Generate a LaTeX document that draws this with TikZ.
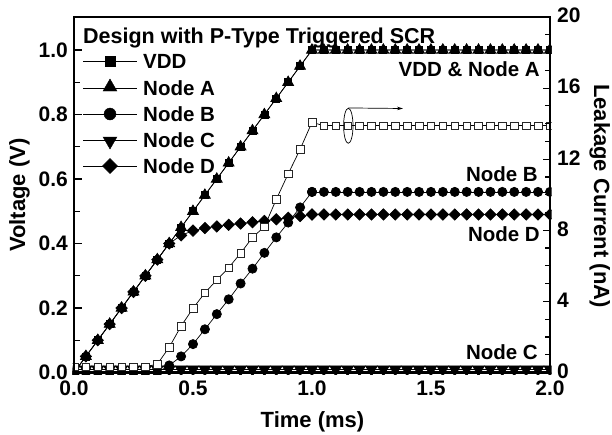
\documentclass[tikz,border=0pt]{standalone}
\usepackage{fontspec}
\setmainfont{Liberation Sans}
\usetikzlibrary{plotmarks,arrows.meta,shapes.geometric}
\begin{document}
\begin{tikzpicture}[x=1pt,y=-1pt,
  big/.style={inner sep=0pt, font=\bfseries\fontsize{21}{24}\selectfont},
  ttl/.style={inner sep=0pt, font=\bfseries\fontsize{21.5}{24}\selectfont},
  axt/.style={inner sep=0pt, font=\bfseries\fontsize{22}{26}\selectfont},
  lbl/.style={inner sep=0pt, font=\bfseries\fontsize{20.5}{24}\selectfont},
  dataline/.style={line width=0.7pt, black},
  tickline/.style={line width=1.2pt},
  frameline/.style={line width=2.8pt},
  openmark/.style={mark=square*, mark size=3.8, mark options={fill=white, draw=black!85, line width=0.6pt}},
  sqmark/.style={mark=square*, mark size=3.5},
  trimark/.style={mark=triangle*, mark size=6.3},
  circmark/.style={mark=*, mark size=4.6},
  dnmark/.style={mark=triangle*, mark size=6.8, mark options={rotate=180}},
  diamark/.style={mark=square*, mark size=4, mark options={rotate=45}}
]
\useasboundingbox (0,0) rectangle (612,434);
\fill[white] (0,0) rectangle (612,434);

% ---------------- data ----------------
\begin{scope}[shift={(74,372.5)}, x=238pt, y=322.5pt]
  \clip ([xshift=-1.5pt,yshift=-1.5pt]0,0) rectangle ([xshift=1.5pt,yshift=1.5pt]2,1.1023);
  % VDD
  \draw[dataline] plot[sqmark, domain=0:2, samples=41] (\x,{min(\x,1)});
  % Node A
  \draw[dataline] plot[trimark, domain=0:2, samples=41] (\x,{min(\x,1)});
  % Node B
  \draw[dataline] plot[circmark] coordinates {(0,0) (0.05,0) (0.1,0) (0.15,0) (0.2,0) (0.25,0) (0.3,0) (0.35,0)
     (0.4,0.022) (0.45,0.05) (0.5,0.088) (0.55,0.134) (0.6,0.181) (0.65,0.227) (0.7,0.276)
     (0.75,0.322) (0.8,0.371) (0.85,0.419) (0.9,0.465) (0.95,0.512) (1.0,0.56)};
  \draw[dataline] plot[circmark, domain=1:2, samples=21] (\x,0.56);
  % Node C
  \draw[dataline] plot[dnmark, domain=0:2, samples=41] (\x,0.01);
  % Node D
  \draw[dataline] plot[diamark] coordinates {(0,0) (0.05,0.05) (0.1,0.1) (0.15,0.15) (0.2,0.2) (0.25,0.25)
     (0.3,0.3) (0.35,0.35) (0.4,0.4) (0.45,0.425) (0.5,0.44) (0.55,0.448) (0.6,0.453) (0.65,0.458)
     (0.7,0.462) (0.75,0.466) (0.8,0.47) (0.85,0.475) (0.9,0.48) (0.95,0.485) (1.0,0.49)};
  \draw[dataline] plot[diamark, domain=1:2, samples=21] (\x,0.49);
  % Leakage current (right axis, in voltage units)
  \draw[dataline] plot[openmark] coordinates {(0,0.018) (0.05,0.018) (0.1,0.018) (0.15,0.018) (0.2,0.018)
     (0.25,0.018) (0.3,0.018) (0.35,0.026) (0.4,0.078) (0.45,0.144) (0.5,0.199) (0.55,0.247)
     (0.6,0.287) (0.65,0.325) (0.7,0.37) (0.75,0.419) (0.8,0.452) (0.85,0.537) (0.9,0.616)
     (0.95,0.692) (1.0,0.776) (1.05,0.765)};
  \draw[dataline] plot[openmark, domain=1.05:2, samples=20] (\x,0.765);
\end{scope}

% ---------------- ticks ----------------
\foreach \i in {0,...,11}{
  \pgfmathsetmacro{\yy}{372.5-32.25*\i}
  \pgfmathsetmacro{\len}{ifthenelse(mod(\i,2)==0,8,5.5)}
  \draw[tickline] (74,\yy) -- ++(\len,0);
}
\foreach \i in {0,...,20}{
  \pgfmathsetmacro{\yy}{372.5-17.775*\i}
  \pgfmathsetmacro{\len}{ifthenelse(mod(\i,4)==0,7,5)}
  \draw[tickline] (550,\yy) -- ++(-\len,0);
}

% ---------------- frame ----------------
\draw[frameline] (74,17) rectangle (550,372.5);

% ---------------- tick labels ----------------
\foreach \v/\t in {0/0.0, 1/0.2, 2/0.4, 3/0.6, 4/0.8, 5/1.0}{
  \node[big, anchor=east] (yl\v) at (68,{372.5-64.5*\v}) {\t};
}
\foreach \v/\t in {0/0.0, 1/0.5, 2/1.0, 3/1.5, 4/2.0}{
  \node[big, anchor=north] (xl\v) at ({74+119*\v},380.5) {\t};
}
\foreach \v/\t in {0/0, 1/4, 2/8, 3/12, 4/16, 5/20}{
  \node[big, anchor=west] (rl\v) at (557,{371-71.1*\v}) {\t};
}

% ---------------- axis titles ----------------
\node[axt, anchor=base, rotate=90] (ylab) at (25,195) {Voltage (V)};
\node[axt, anchor=base, rotate=-90] (rlab) at (594,196) {Leakage Current (nA)};
\node[axt, anchor=base] (xlab) at (312.5,427) {Time (ms)};

% ---------------- legend ----------------
\node[ttl, anchor=base west] (title) at (83,43.3) {Design with P-Type Triggered SCR};
\draw[dataline] (83,61) -- (137,61);
\path plot[mark=square*, mark size=5.3] coordinates {(110,61)};
\node[lbl, anchor=west] (lg1) at (143,61) {VDD};
\draw[dataline] (83,88) -- (137,88);
\path plot[mark=triangle*, mark size=8] coordinates {(110,87)};
\node[lbl, anchor=west] (lg2) at (143,88) {Node A};
\draw[dataline] (83,114) -- (137,114);
\path plot[mark=*, mark size=6] coordinates {(110,114)};
\node[lbl, anchor=west] (lg3) at (143,114) {Node B};
\draw[dataline] (83,140) -- (137,140);
\path plot[mark=triangle*, mark size=8, mark options={rotate=180}] coordinates {(110,141)};
\node[lbl, anchor=west] (lg4) at (143,140) {Node C};
\draw[dataline] (83,166) -- (137,166);
\path plot[mark=square*, mark size=5.3, mark options={rotate=45}] coordinates {(110,166)};
\node[lbl, anchor=west] (lg5) at (143,166) {Node D};

% ---------------- curve labels ----------------
\node[lbl, anchor=east] (labA) at (540,69.5) {VDD \& Node A};
\node[lbl, anchor=east] (labB) at (538,174) {Node B};
\node[lbl, anchor=east] (labD) at (540,234) {Node D};
\node[lbl, anchor=east] (labC) at (538,352.5) {Node C};

% ---------------- ellipse + arrow ----------------
\node[draw, ellipse, minimum width=9.4pt, minimum height=35pt, inner sep=0pt, line width=0.7pt] (ell) at (348.3,125.8) {};
\coordinate (arrend) at (403,108.5);
\draw[line width=0.7pt, -{Stealth[length=6pt,width=3.5pt]}] (ell.north) -- (arrend);
\end{tikzpicture}
\end{document}
